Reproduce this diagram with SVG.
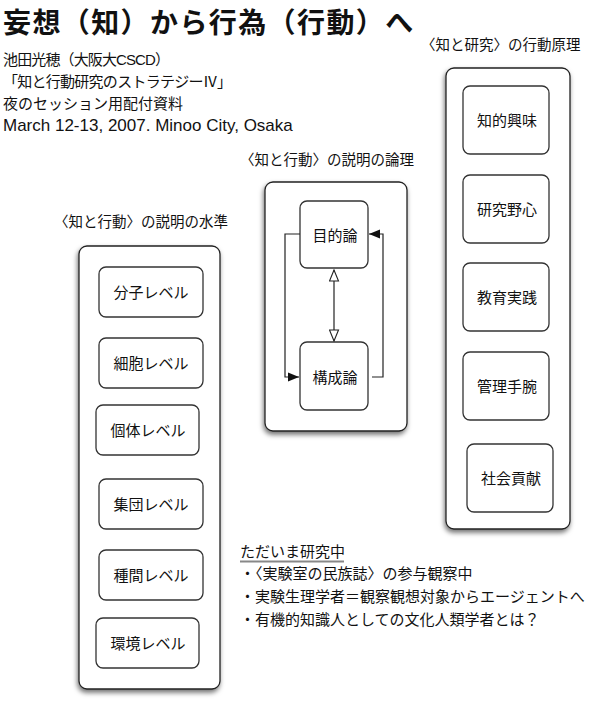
<svg xmlns="http://www.w3.org/2000/svg" width="592" height="704" viewBox="0 0 592 704">
<style>
.t{font-family:"Liberation Sans","Noto Sans CJK JP",sans-serif;fill:#111}
.lbl{font-size:14.5px}
.node{font-size:15px;text-anchor:middle;dominant-baseline:central}
.box{fill:#fff;stroke:#333;stroke-width:1.3}
.frame{fill:#fff;stroke:#222;stroke-width:1.3;filter:url(#sh)}
.conn{fill:none;stroke:#222;stroke-width:1.2}
</style>
<defs>
<filter id="sh" x="-20%" y="-10%" width="140%" height="120%">
<feDropShadow dx="-1" dy="3" stdDeviation="2.5" flood-color="#000" flood-opacity="0.55"/>
</filter>
<marker id="fa" markerUnits="userSpaceOnUse" markerWidth="12" markerHeight="10" refX="11" refY="5" orient="auto">
<path d="M0,0.5 L11,5 L0,9.5 z" fill="#111"/>
</marker>
<marker id="ha" markerUnits="userSpaceOnUse" markerWidth="13" markerHeight="11" refX="12" refY="5.5" orient="auto-start-reverse">
<path d="M1,1 L12,5.5 L1,10 z" fill="#fff" stroke="#222" stroke-width="1.1"/>
</marker>
</defs>
<rect width="592" height="704" fill="#fff"/>

<g id="title">
<text class="t" x="3" y="33" style="font-family:'Noto Sans CJK JP',serif;font-size:28px;font-weight:600;letter-spacing:1.4px">妄想（知）から行為（行動）へ</text>
<text class="t" x="3" y="65" style="font-size:15px" textLength="167" lengthAdjust="spacing">池田光穂（大阪大CSCD）</text>
<text class="t" x="3" y="87" style="font-size:15px" textLength="229" lengthAdjust="spacing">「知と行動研究のストラテジーⅣ」</text>
<text class="t" x="3" y="109" style="font-size:15px">夜のセッション用配付資料</text>
<text class="t" x="3" y="131" style="font-size:17px">March 12-13, 2007. Minoo City, Osaka</text>
</g>

<g id="levels">
<text class="t lbl" x="54" y="227">〈知と行動〉の説明の水準</text>
<rect class="frame" x="79" y="246" width="141" height="443" rx="8"/>
</g>
<g id="n-bunshi"><rect class="box" x="99" y="267" width="104" height="50" rx="7"/><text class="t node" x="151" y="292">分子レベル</text></g>
<g id="n-saibo"><rect class="box" x="99" y="338" width="104" height="50" rx="7"/><text class="t node" x="151" y="363">細胞レベル</text></g>
<g id="n-kotai"><rect class="box" x="96" y="405" width="103" height="50" rx="7"/><text class="t node" x="148" y="430">個体レベル</text></g>
<g id="n-shudan"><rect class="box" x="99" y="479" width="104" height="50" rx="7"/><text class="t node" x="151" y="504">集団レベル</text></g>
<g id="n-shukan"><rect class="box" x="99" y="550" width="104" height="50" rx="7"/><text class="t node" x="151" y="575">種間レベル</text></g>
<g id="n-kankyo"><rect class="box" x="96" y="618" width="103" height="50" rx="7"/><text class="t node" x="148" y="643">環境レベル</text></g>

<g id="logic">
<text class="t lbl" x="240" y="165">〈知と行動〉の説明の論理</text>
<rect class="frame" x="265" y="182" width="142" height="249" rx="8"/>
</g>
<g id="n-mokuteki"><rect class="box" x="300" y="201" width="68" height="67" rx="7"/><text class="t node" x="335" y="235">目的論</text></g>
<g id="n-kosei"><rect class="box" x="300" y="342" width="68" height="68" rx="7"/><text class="t node" x="335" y="377">構成論</text></g>

<g id="connectors">
<path class="conn" d="M300,234 H285 V377 H299" marker-end="url(#fa)"/>
<path class="conn" d="M372,377 H383 V234 H369" marker-end="url(#fa)"/>
<path class="conn" d="M334,270 V341" marker-start="url(#ha)" marker-end="url(#ha)"/>
</g>

<g id="principles">
<text class="t lbl" x="421" y="50">〈知と研究〉の行動原理</text>
<rect class="frame" x="446" y="68" width="124" height="461" rx="8"/>
</g>
<g id="n-kyomi"><rect class="box" x="463" y="86" width="86" height="68" rx="7"/><text class="t node" x="507" y="120">知的興味</text></g>
<g id="n-yashin"><rect class="box" x="463" y="175" width="86" height="68" rx="7"/><text class="t node" x="507" y="209">研究野心</text></g>
<g id="n-kyoiku"><rect class="box" x="463" y="263" width="86" height="68" rx="7"/><text class="t node" x="507" y="297">教育実践</text></g>
<g id="n-kanri"><rect class="box" x="463" y="352" width="86" height="68" rx="7"/><text class="t node" x="507" y="386">管理手腕</text></g>
<g id="n-shakai"><rect class="box" x="467" y="444" width="86" height="68" rx="7"/><text class="t node" x="511" y="478">社会貢献</text></g>

<g id="notes">
<text class="t" x="240" y="557" style="font-size:15px">ただいま研究中</text>
<line x1="240" y1="561.5" x2="344" y2="561.5" stroke="#888" stroke-width="2"/>
<text class="t" x="240" y="579" style="font-size:15px">・〈実験室の民族誌〉の参与観察中</text>
<text class="t" x="240" y="602" style="font-size:15px">・実験生理学者＝観察観想対象からエージェントへ</text>
<text class="t" x="240" y="625" style="font-size:15px">・有機的知識人としての文化人類学者とは？</text>
</g>
</svg>
